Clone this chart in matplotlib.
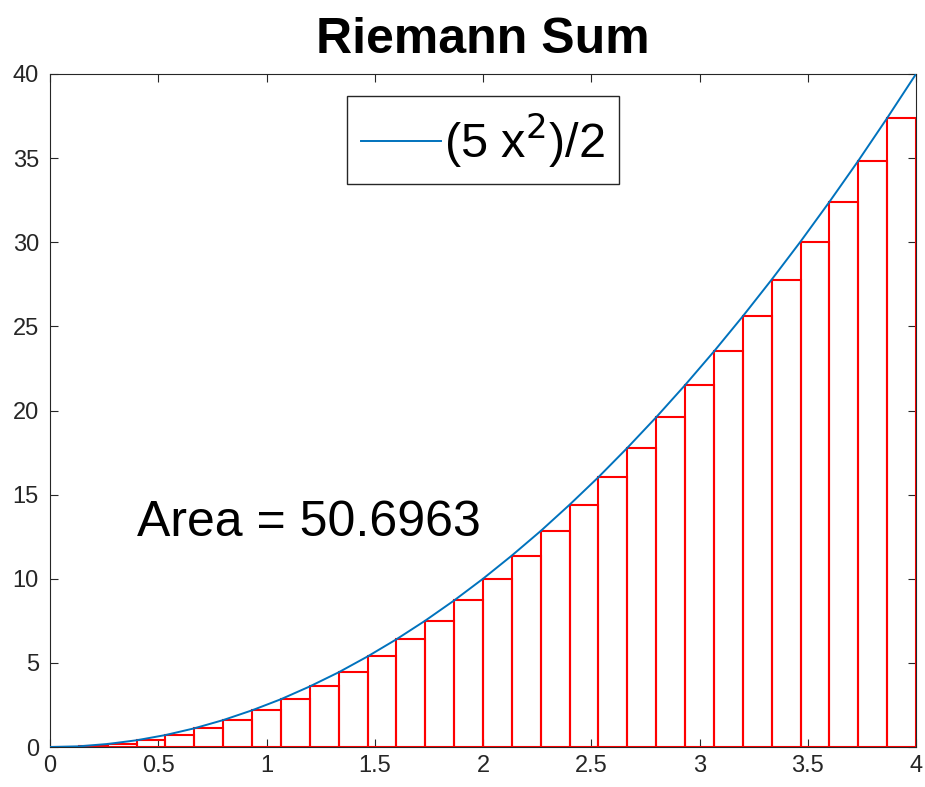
import numpy as np
import matplotlib
matplotlib.use("Agg")
import matplotlib.pyplot as plt

plt.rcParams['font.family'] = ['Liberation Sans', 'DejaVu Sans']

# left Riemann sum, 30 strips on [0, 4]
x_start = 0.0
x_end = 4.0
bar_heights = [0.00, 0.04, 0.18, 0.40, 0.71, 1.11, 1.60, 2.18, 2.84, 3.60,
               4.44, 5.38, 6.40, 7.51, 8.71, 10.00, 11.38, 12.84, 14.40, 16.04,
               17.78, 19.60, 21.51, 23.51, 25.60, 27.78, 30.04, 32.40, 34.84, 37.38]
# curve values at the strip edges (last one is the right end)
curve_y = bar_heights + [40.00]
area_text = "Area = 50.6963"
legend_label = r"(5 x$^{2}$)/2"

edges = np.linspace(x_start, x_end, len(bar_heights) + 1)
width = edges[1] - edges[0]

fig = plt.figure(figsize=(9.25, 7.87), dpi=100)
ax = fig.add_axes([50 / 925, 40 / 787, 866 / 925, 673 / 787])

ax.bar(edges[:-1], bar_heights, width=width, align='edge',
       facecolor='none', edgecolor='red', linewidth=1.5, zorder=2)
ax.plot(edges, curve_y, color='#0072BD', linewidth=1.4, label=legend_label, zorder=3)

ax.text(0.4, 13.3, area_text, fontsize=36, va='center', ha='left')

ax.set_xlim(0, 4)
ax.set_ylim(0, 40)
ax.set_xticks(np.arange(0, 4.01, 0.5))
ax.set_xticklabels(['0', '0.5', '1', '1.5', '2', '2.5', '3', '3.5', '4'])
ax.set_yticks(np.arange(0, 41, 5))
ax.tick_params(direction='in', length=6, width=0.8, top=True, right=True,
               labelsize=17, colors='#262626')
ax.tick_params(axis='x', pad=6)
ax.tick_params(axis='y', pad=8)
for s in ax.spines.values():
    s.set_color('#262626')
    s.set_linewidth(0.8)

ax.set_title("Riemann Sum", fontsize=36, fontweight='bold', pad=15)

leg = ax.legend(loc='upper center', bbox_to_anchor=(0.5, 0.967), fontsize=35,
                fancybox=False, framealpha=1, edgecolor='#262626',
                handlelength=1.65, handletextpad=0.05, borderpad=0.3,
                borderaxespad=0)
leg.get_frame().set_linewidth(1.0)

fig.savefig("out.png", dpi=100)
